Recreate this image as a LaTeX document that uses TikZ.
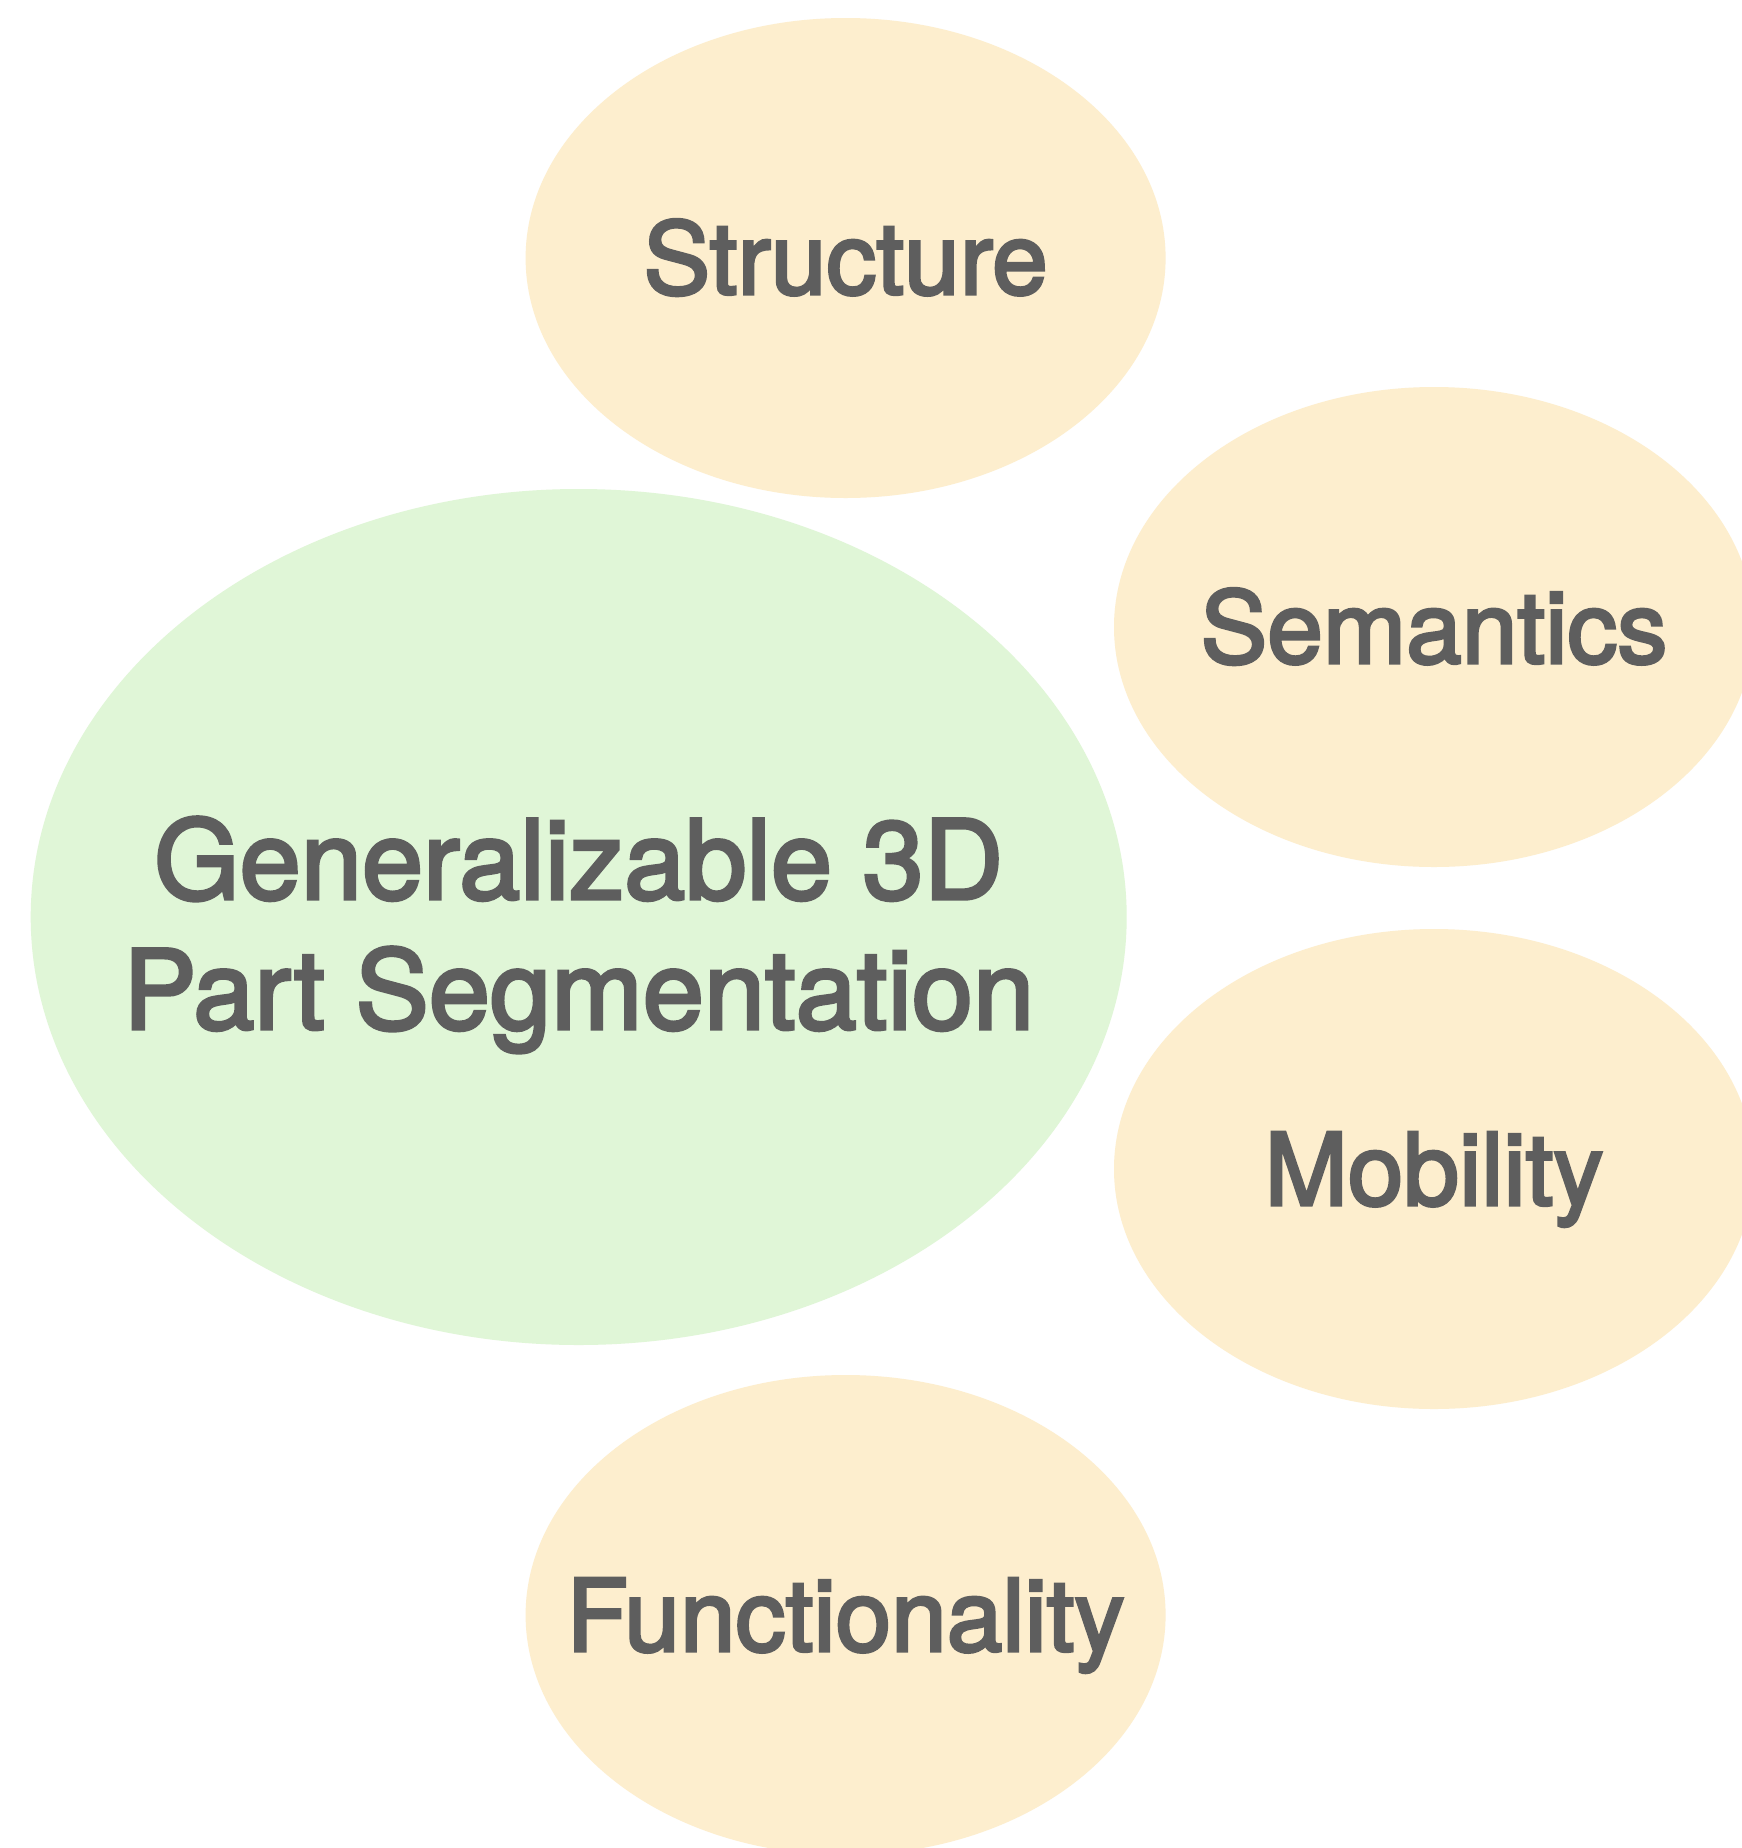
\documentclass[tikz,border=0pt]{standalone}
\usepackage{fontspec}
\setmainfont[FakeBold=3]{TeX Gyre Heros}
\usetikzlibrary{shapes.geometric}
\definecolor{petalc}{HTML}{FDEECE}
\definecolor{corec}{HTML}{E0F6D7}
\definecolor{ink}{HTML}{5E5E5E}
\begin{document}
\begin{tikzpicture}[x=1pt,y=-1pt,
  petal/.style={ellipse, fill=petalc, draw=none, inner sep=0pt,
    minimum width=640pt, minimum height=480pt},
  corenode/.style={ellipse, fill=corec, draw=none, inner sep=0pt,
    minimum width=1096pt, minimum height=856pt},
  petaltext/.style={inner sep=0pt, text=ink,
    font=\fontsize{100}{120}\selectfont, text height=72pt, text depth=0pt},
  coretext/.style={inner sep=0pt, text=ink, align=center,
    font=\fontsize{110}{130}\selectfont, text height=247pt, text depth=23pt}]
\useasboundingbox (0,0) rectangle (1742,1848);
\clip (0,0) rectangle (1742,1848);
\fill[white] (0,0) rectangle (1742,1848);
\node[corenode] (core) at (578.7,917) {};
\node[petal] (structure) at (845.6,258) {};
\node[petal] (semantics) at (1434,627) {};
\node[petal] (mobility) at (1434,1169) {};
\node[petal] (function) at (845.6,1615) {};
\node[coretext] (coreT) at (core.center) {Generalizable 3D\\Part Segmentation};
\node[petaltext] (structureT) at (structure.center) {Structure};
\node[petaltext] (semanticsT) at (semantics.center) {Semantics};
\node[petaltext] (mobilityT) at (mobility.center) {Mobility};
\node[petaltext] (functionT) at (function.center) {Functionality};
\end{tikzpicture}
\end{document}
